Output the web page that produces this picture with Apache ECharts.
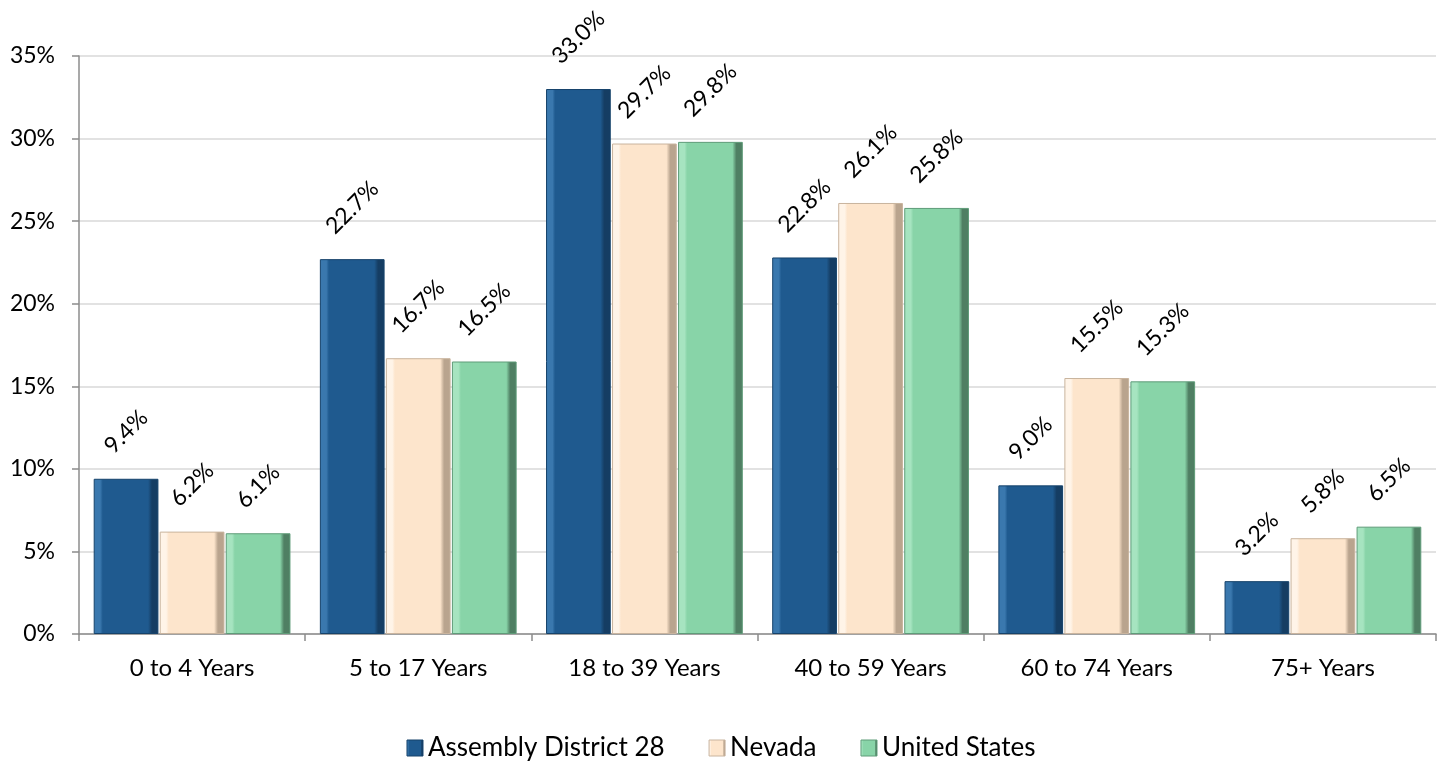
<!DOCTYPE html>
<html><head><meta charset="utf-8">
<script src="https://cdn.jsdelivr.net/npm/echarts@6/dist/echarts.min.js"></script>
<style>html,body{margin:0;padding:0;background:#fff}#c{width:1442px;height:763px}</style>
</head><body><div id="c"></div>
<script>
const categories = ['0 to 4 Years','5 to 17 Years','18 to 39 Years','40 to 59 Years','60 to 74 Years','75+ Years'];
const district = [9.4, 22.7, 33.0, 22.8, 9.0, 3.2];
const nevada = [6.2, 16.7, 29.7, 26.1, 15.5, 5.8];
const us = [6.1, 16.5, 29.8, 25.8, 15.3, 6.5];
const seriesNames = ['Assembly District 28','Nevada','United States'];

const FONT = 'Lato';
const LABEL_SIZE = 23;
const ctx = document.createElement('canvas').getContext('2d');
ctx.font = LABEL_SIZE + 'px ' + FONT;
function fmt(v){ return v.toFixed(1) + '%'; }
function labelDistance(v){
  const L = ctx.measureText(fmt(v)).width;
  return 23 + (L + 17) * 0.7071 / 2;
}

function grad(light, base, dark){
  return new echarts.graphic.LinearGradient(0,0,1,0,[
    {offset:0,color:light},{offset:0.1,color:light},{offset:0.14,color:base},
    {offset:0.84,color:base},{offset:0.9,color:dark},{offset:1,color:dark}
  ]);
}
const styles = [
  {g:grad('#3a78ae','#1F5A8F','#153d63'), b:'#16436b'},
  {g:grad('#fff4e8','#FDE5CC','#b9a48e'), b:'#c9b49e'},
  {g:grad('#a6e4c0','#88D4A8','#4f7f63'), b:'#5f9c79'}
];
const dataSets = [district, nevada, us];
const chart = echarts.init(document.getElementById('c'));
chart.setOption({
  animation:false,
  grid:{left:79,right:6,top:56,bottom:129},
  legend:{bottom:-3,left:'center',icon:'rect',itemWidth:16,itemHeight:16,itemGap:44,
    textStyle:{fontFamily:FONT,fontSize:26,color:'#000',padding:[0,0,0,0]},
    data:seriesNames.map((n,i)=>({name:n,itemStyle:{color:styles[i].g,borderColor:styles[i].b,borderWidth:1}}))},
  xAxis:{type:'category',data:categories,
    axisLine:{lineStyle:{color:'#8c8c8c',width:1.5}},
    axisTick:{show:true,alignWithLabel:false,length:7,lineStyle:{color:'#8c8c8c',width:1.5}},
    axisLabel:{fontFamily:FONT,fontSize:24,color:'#000',margin:22}},
  yAxis:{type:'value',min:0,max:35,interval:5,
    axisLine:{show:true,lineStyle:{color:'#8c8c8c',width:1.5}},
    axisTick:{show:true,length:7,lineStyle:{color:'#8c8c8c',width:1.5}},
    splitLine:{lineStyle:{color:'#d9d9d9',width:1.5}},
    axisLabel:{fontFamily:FONT,fontSize:23,color:'#000',margin:24,formatter:v=>v+'%'}},
  series:dataSets.map((d,i)=>({
    name:seriesNames[i],type:'bar',
    data:d.map(v=>({value:v,label:{distance:labelDistance(v)}})),
    barCategoryGap:'13%',barGap:'2%',
    itemStyle:{color:styles[i].g,borderColor:styles[i].b,borderWidth:1},
    label:{show:true,position:'top',rotate:45,align:'center',verticalAlign:'middle',
      fontFamily:FONT,fontSize:LABEL_SIZE,color:'#000',formatter:p=>fmt(p.value)}
  }))
});
</script></body></html>
